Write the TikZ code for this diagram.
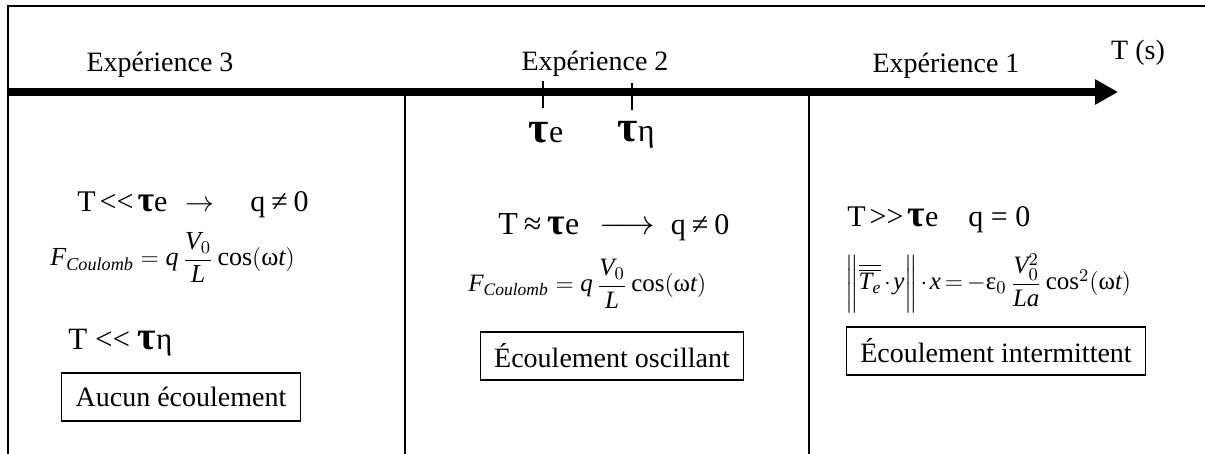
\documentclass[tikz,border=0pt]{standalone}
\usepackage{amsmath}
\usepackage{fontspec}
\setmainfont{Liberation Serif}
\usetikzlibrary{arrows.meta}
\newcommand{\tauB}[1][17]{{\fontsize{#1}{#1}\selectfont\bfseries τ}}
\newcommand{\llt}{<\kern0pt<}
\newcommand{\ggt}{>\kern0pt>}
\newcommand{\mi}[1]{\mathit{#1}}

\begin{document}
\begin{tikzpicture}[x=0.5pt,y=-0.5pt,
    lbl/.style={font=\fontsize{14}{17}\selectfont,inner sep=0pt,anchor=base},
    cond/.style={font=\fontsize{15}{18}\selectfont,inner sep=0pt,anchor=base west},
    eqn/.style={font=\fontsize{13}{16}\selectfont,inner sep=0pt,anchor=base west},
    res/.style={draw,line width=0.6pt,font=\fontsize{14}{17}\selectfont,minimum height=24pt,inner xsep=7pt,inner ysep=0pt},
    rule/.style={line width=0.7pt}]
  \useasboundingbox (0,0) rectangle (1205,454);
  \coordinate (tl) at (8,6);
  \coordinate (tr) at (1205,6);
  \coordinate (bl) at (8,454);
  \coordinate (ax0) at (8,92);
  \coordinate (ax1) at (1118,92);
  \coordinate (d1t) at (405,92);
  \coordinate (d1b) at (405,454);
  \coordinate (d2t) at (809,92);
  \coordinate (d2b) at (809,454);
  \coordinate (tk1) at (543,81);
  \coordinate (tk2) at (632,83);
  \draw[rule] (tr) -- (tl) -- (bl);
  \draw[rule] (d1t) -- (d1b);
  \draw[rule] (d2t) -- (d2b);
  \draw[line width=4pt,-{Triangle[length=11.5pt,width=12pt]}] (ax0) -- (ax1);
  \draw[rule] (tk1) -- ++(0,27);
  \draw[rule] (tk2) -- ++(0,27);

  \node[lbl] (exp3) at (160,72) {Expérience 3};
  \node[lbl] (exp2) at (595,71) {Expérience 2};
  \node[lbl] (exp1) at (946,73) {Expérience 1};
  \node[lbl] (unit) at (1138,60) {T (s)};
  \node[lbl,font=\fontsize{16}{18}\selectfont] (te) at (546,143) {\tauB[22]e};
  \node[lbl,font=\fontsize{16}{18}\selectfont] (th) at (636,142) {\tauB[22]η};

  \node[cond] (l1) at (77,212) {T\hspace{2pt}\llt\hspace{2pt}\tauB[18]e\hspace{9pt}$\rightarrow$\hspace{18pt}q\hspace{3pt}≠\hspace{3pt}0};
  \node[eqn] (l2) at (50,266) {$\mi{F}_{\mi{Coulomb}} = \mi{q}\,\dfrac{\mi{V}_0}{\mi{L}}\cos(\text{ω}\mi{t})$};
  \node[cond,font=\fontsize{15.5}{18}\selectfont] (l3) at (68,350) {T \llt\ \tauB[20]η};
  \node[res] (none) at (181,397) {Aucun écoulement};

  \node[cond,font=\fontsize{16}{19}\selectfont] (m1) at (498,235) {T\hspace{3pt}≈\hspace{3pt}\tauB[19]e\hspace{10pt}$\longrightarrow$\hspace{8pt}{\fontsize{15}{17}\selectfont q\hspace{3pt}≠\hspace{3pt}0}};
  \node[eqn,font=\fontsize{12.5}{15}\selectfont] (m2) at (468,292) {$\mi{F}_{\mi{Coulomb}} = \mi{q}\,\dfrac{\mi{V}_0}{\mi{L}}\cos(\text{ω}\mi{t})$};
  \node[res] (osc) at (612,356) {Écoulement oscillant};

  \node[cond] (r1) at (847,227) {T\hspace{2pt}\ggt\hspace{2pt}\tauB[19]e\hspace{15pt}q = 0};
  \node[eqn,font=\fontsize{12.5}{15}\selectfont] (r2) at (845,290) {\thickmuskip=3mu\medmuskip=2mu$\biggl\|\overline{\overline{\mi{T}_{\mi{e}}}}\cdot \mi{y}\biggr\|\cdot \mi{x} = -\text{ε}_0\,\dfrac{\mi{V}_0^2}{\mi{La}}\cos^2(\text{ω}\mi{t})$};
  \node[res] (inter) at (996,351) {Écoulement intermittent};
\end{tikzpicture}
\end{document}
